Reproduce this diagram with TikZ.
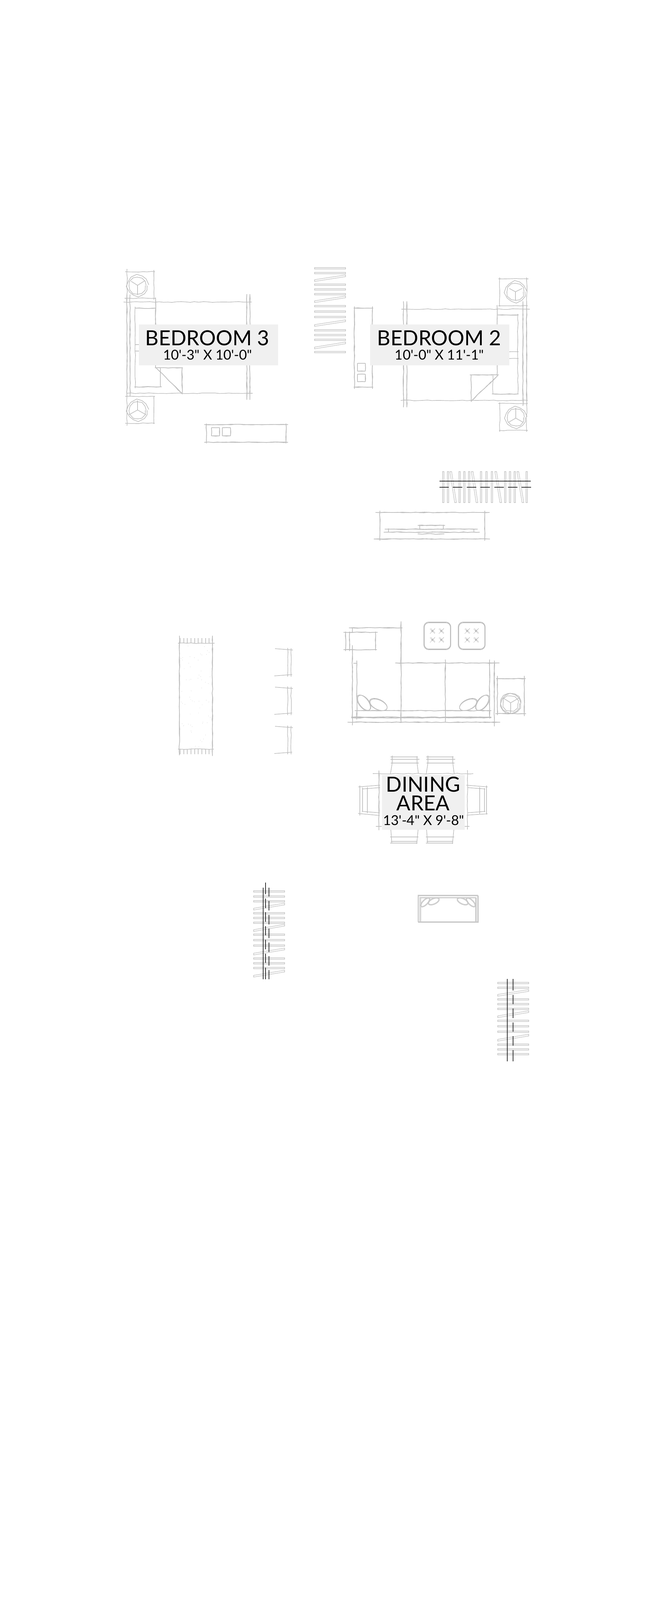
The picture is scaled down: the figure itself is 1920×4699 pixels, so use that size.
\documentclass[tikz,border=0pt]{standalone}
\usepackage{fontspec}
\usetikzlibrary{decorations.pathmorphing}
\newfontfamily\roomfont{Lato}
\definecolor{sketchgray}{HTML}{BDBDBD}
\definecolor{runggray}{HTML}{C9C9C9}
\definecolor{boxgray}{HTML}{F0F0F0}
\tikzset{
    sketch/.style={draw=sketchgray, line width=1.7pt, decorate,
        decoration={random steps, segment length=13pt, amplitude=1.1pt}},
    plainline/.style={draw=sketchgray, line width=1.7pt},
    rung/.style={draw=runggray, line width=1.7pt},
    blackline/.style={draw=black!90, line width=1.7pt},
    roombox/.style={fill=boxgray, inner sep=0pt},
    roomname/.style={anchor=base, inner sep=0pt, font=\roomfont\fontsize{61}{61}\selectfont},
    roomsize/.style={anchor=base, inner sep=0pt, font=\roomfont\fontsize{40}{40}\selectfont},
}
\newcommand{\skline}[2]{\draw[sketch] #1 -- #2; \draw[sketch] #1 -- #2;}
\begin{document}
\begin{tikzpicture}[x=1pt, y=-1pt]
\useasboundingbox (0,0) rectangle (1920,4699);

% bedroom 3
\draw[sketch] (373,790) -- (373,882);
\draw[sketch] (368,798) -- (455,798);
\draw[sketch] (452,793) -- (452,880);
\draw[sketch] (366,876) -- (456,876);
\draw[sketch] (404,839) circle (28);
\draw[sketch] (404,839) circle (23);
\draw[plainline] (404,838) -- (385,826) (404,838) -- (426,824) (404,838) -- (404,866);
\draw[sketch] (363,887) -- (739,887);
\draw[sketch] (372,1155) -- (742,1155);
\skline{(373,865)}{(373,1164)}
\skline{(382,865)}{(382,1164)}
\skline{(457,874)}{(457,1081)}
\skline{(725,864)}{(725,1174)}
\skline{(734,864)}{(734,1174)}
\skline{(397,905)}{(458,905)}
\draw[sketch] (397,901) -- (397,1140);
\draw[sketch] (397,1012) -- (408,1012) (397,1031) -- (408,1031);
\skline{(395,1136)}{(475,1136)}
\draw[sketch] (471,1081) -- (471,1136);
\skline{(455,1080)}{(537,1080)}
\skline{(535,1080)}{(535,1158)}
\skline{(459,1081)}{(535,1156)}
\draw[sketch] (373,1164) -- (373,1250);
\draw[sketch] (368,1164) -- (455,1164);
\draw[sketch] (452,1164) -- (452,1245);
\draw[sketch] (368,1243) -- (454,1243);
\draw[sketch] (404,1205) circle (28);
\draw[sketch] (404,1205) circle (23);
\draw[plainline] (404,1204) -- (404,1176) (404,1204) -- (379,1218) (404,1204) -- (429,1218);
\skline{(600,1247)}{(846,1247)}
\skline{(600,1299)}{(846,1299)}
\skline{(606,1244)}{(606,1302)}
\skline{(840,1244)}{(840,1302)}
\skline{(621,1256)}{(645,1256)}
\skline{(621,1280)}{(645,1280)}
\skline{(621,1256)}{(621,1280)}
\skline{(645,1256)}{(645,1280)}
\skline{(653,1256)}{(677,1256)}
\skline{(653,1280)}{(677,1280)}
\skline{(653,1256)}{(653,1280)}
\skline{(677,1256)}{(677,1280)}

% top ladder
\foreach \y in {788,802,836,850,864,899,915,931,970,984,998,1034}
    \draw[rung] (924,{\y-2.2}) rectangle (1015,{\y+2.2});
\foreach \a/\b in {824/810,886/872,956/942,1022/1007}
    \draw[rung] (924,{\a-2.5}) -- (1015,{\b-2.5}) -- (1015,{\b+2.5}) -- (924,{\a+2.5}) -- cycle;

% bedroom 2
\draw[sketch] (1468,815) -- (1468,900);
\draw[sketch] (1464,819) -- (1552,819);
\draw[sketch] (1547,815) -- (1547,900);
\draw[sketch] (1464,898) -- (1550,898);
\draw[sketch] (1514,857) circle (28);
\draw[sketch] (1514,857) circle (23);
\draw[plainline] (1514,857) -- (1496,847) (1514,857) -- (1534,847) (1514,857) -- (1514,882);
\draw[sketch] (1179,908) -- (1556,908);
\draw[sketch] (1177,1176) -- (1550,1176);
\skline{(1185,885)}{(1185,1196)}
\skline{(1195,885)}{(1195,1196)}
\skline{(1460,896)}{(1460,1103)}
\skline{(1536,885)}{(1536,1192)}
\skline{(1547,885)}{(1547,1192)}
\skline{(1462,925)}{(1523,925)}
\draw[sketch] (1521,922) -- (1521,1158);
\draw[sketch] (1496,1033) -- (1523,1033) (1496,1053) -- (1523,1053);
\skline{(1445,1157)}{(1523,1157)}
\draw[sketch] (1448,1103) -- (1448,1157);
\skline{(1380,1101)}{(1465,1101)}
\skline{(1384,1101)}{(1384,1180)}
\skline{(1384,1178)}{(1462,1103)}
\draw[sketch] (1468,1182) -- (1468,1268);
\draw[sketch] (1464,1185) -- (1550,1185);
\draw[sketch] (1547,1185) -- (1547,1268);
\draw[sketch] (1466,1264) -- (1550,1264);
\draw[sketch] (1515,1226) circle (28);
\draw[sketch] (1515,1226) circle (23);
\draw[plainline] (1515,1228) -- (1515,1198) (1515,1228) -- (1494,1240) (1515,1228) -- (1536,1240);
\skline{(1039,905)}{(1096,905)}
\skline{(1039,1137)}{(1096,1137)}
\skline{(1041,900)}{(1041,1142)}
\skline{(1094,900)}{(1094,1142)}
\skline{(1050,1067)}{(1073,1067)}
\skline{(1050,1090)}{(1073,1090)}
\skline{(1050,1067)}{(1050,1090)}
\skline{(1073,1067)}{(1073,1090)}
\skline{(1050,1099)}{(1073,1099)}
\skline{(1050,1121)}{(1073,1121)}
\skline{(1050,1099)}{(1050,1121)}
\skline{(1073,1099)}{(1073,1121)}

% right ladder
\foreach \x in {1302,1316,1350,1364,1378,1413,1429,1445,1484,1498,1512,1547}
    \draw[rung] ({\x-2.2},1385) rectangle ({\x+2.2},1476);
\foreach \a/\b in {1324/1338,1387/1401,1456/1471,1521/1536}
    \draw[rung] ({\a-2.5},1385) -- ({\b-2.5},1476) -- ({\b+2.5},1476) -- ({\a+2.5},1385) -- cycle;
\draw[blackline] (1291,1413) -- (1559,1413);
\foreach \a/\b in {1291/1318,1330/1358,1371/1399,1411/1439,1452/1480,1492/1520,1532/1560}
    \draw[blackline] (\a,1431) -- (\b,1431);

% sideboard
\skline{(1103,1505)}{(1438,1505)}
\skline{(1098,1583)}{(1439,1583)}
\skline{(1116,1500)}{(1116,1588)}
\skline{(1424,1500)}{(1424,1588)}
\skline{(1130,1554)}{(1403,1554)}
\skline{(1127,1563)}{(1409,1563)}
\skline{(1227,1543)}{(1307,1543)}
\skline{(1227,1568)}{(1305,1568)}
\draw[sketch] (1233,1541) -- (1233,1555);
\draw[sketch] (1302,1541) -- (1302,1555);
\draw[sketch] (1141,1552) -- (1141,1563);
\draw[sketch] (1392,1553) -- (1392,1564);

% rug
\draw[sketch] (523,1889) -- (630,1889);
\draw[sketch] (523,2200) -- (628,2200);
\skline{(527,1867)}{(527,2218)}
\skline{(624,1867)}{(624,2220)}
\foreach \x in {529,540,550,561,572,582,593,604,614}
    \draw[plainline] (\x,1874) -- (\x,1889) (\x,2200) -- (\x,2215);
\foreach \a/\b in {157/142,302/147,328/183,343/197,268/212,279/221,320/216,174/236,213/245,110/243,95/252,108/265,246/266,163/293,177/326,123/342,365/342,272/362,254/398,268/411,351/412,245/426,141/440,168/441,182/435,276/440,310/461,336/473,277/511,102/541,185/537,172/592,180/612,194/625,213/633,254/628,318/619,340/635,97/635,108/647,130/656,282/660,261/687,249/732,177/741,338/758,353/771,288/812,285/824,326/818,105/826,120/840,116/846,160/830,180/838,193/852,183/890,187/902,311/926,293/961,266/972,279/985,222/1025,252/1030,188/1040,147/1044,357/1017}
    \fill[sketchgray] ({500+\a/3},{1850+\b/3}) circle (.7);

% wall brackets
\foreach \t/\b in {1905/1985,2018/2098,2133/2213} {
    \draw[plainline] (808,\t) -- (860,{\t+4});
    \draw[plainline] (806,\b) -- (858,{\b-4});
    \draw[sketch] (845,{\t-2}) -- (845,{\b+2});
    \draw[sketch] (855,{\t-1}) -- (855,{\b+2});
}

% sofa
\skline{(1025,1844)}{(1182,1844)}
\skline{(1178,1825)}{(1178,2120)}
\skline{(1009,1857)}{(1109,1857)}
\skline{(1009,1908)}{(1107,1908)}
\skline{(1015,1855)}{(1015,1912)}
\skline{(1027,1855)}{(1027,1912)}
\skline{(1103,1855)}{(1103,1910)}
\draw[plainline] (1035,1844) -- (1035,1857);
\skline{(1035,1895)}{(1035,2130)}
\skline{(1048,1940)}{(1048,2113)}
\draw[plainline] (1038,1948) -- (1048,1948);
\skline{(1161,1947)}{(1467,1947)}
\skline{(1308,1937)}{(1308,2120)}
\skline{(1438,1937)}{(1438,2110)}
\skline{(1452,1940)}{(1452,2133)}
\skline{(1042,2087)}{(1443,2087)}
\skline{(1032,2106)}{(1443,2106)}
\skline{(1032,2108)}{(1443,2108)}
\skline{(1021,2121)}{(1469,2121)}
\draw[plainline, rotate around={-52:(1068,2064)}] (1068,2064) ellipse (27 and 14);
\draw[plainline, rotate around={-52:(1070,2064)}] (1070,2064) ellipse (26 and 14);
\draw[plainline, rotate around={-25:(1111,2069)}] (1111,2069) ellipse (28 and 15);
\draw[plainline, rotate around={-25:(1112,2070)}] (1112,2070) ellipse (27 and 14);
\draw[plainline, rotate around={25:(1376,2069)}] (1376,2069) ellipse (28 and 15);
\draw[plainline, rotate around={25:(1375,2070)}] (1375,2070) ellipse (27 and 14);
\draw[plainline, rotate around={52:(1418,2064)}] (1418,2064) ellipse (27 and 14);
\draw[plainline, rotate around={52:(1416,2064)}] (1416,2064) ellipse (26 and 14);

% ottomans
\foreach \x in {1245,1346} {
    \draw[plainline, rounded corners=14pt] (\x,1827) rectangle ({\x+79},1908);
    \draw[plainline, rounded corners=13pt] ({\x+1.5},1829) rectangle ({\x+78},1906);
}
\foreach \x in {1270,1296,1372,1398}
    \foreach \y in {1853,1879} {
        \draw[plainline, line width=.9pt] ({\x-7},{\y-6}) -- ({\x+7},{\y+8}) ({\x-5},{\y-8}) -- ({\x+8},{\y+6});
        \draw[plainline, line width=.9pt] ({\x-7},{\y+8}) -- ({\x+7},{\y-6}) ({\x-5},{\y+6}) -- ({\x+8},{\y-8});
        \fill[sketchgray] (\x,\y) circle (3);
    }

% side table
\skline{(1457,1993)}{(1544,1993)}
\skline{(1455,2096)}{(1545,2096)}
\skline{(1461,1985)}{(1461,2100)}
\skline{(1540,1985)}{(1540,2103)}
\draw[sketch] (1500,2066) circle (29);
\draw[sketch] (1500,2066) circle (26);
\draw[sketch] (1500,2066) circle (21);
\draw[plainline] (1500,2064) -- (1478,2050) (1500,2064) -- (1524,2050) (1500,2064) -- (1500,2094);

% dining table
\draw[sketch] (1095,2272) -- (1390,2272);
\skline{(1113,2263)}{(1113,2438)}
\draw[sketch] (1373,2262) -- (1373,2436);
\draw[sketch] (1104,2427) -- (1121,2427);
\draw[sketch] (1365,2427) -- (1379,2427);
\foreach \a/\b in {0/0,105/105} {
    \draw[plainline] ({1147+\a},2223) -- ({1227+\a},2223);
    \draw[plainline] ({1147+\a},2230) -- ({1232+\a},2230);
    \draw[plainline] ({1148+\a},2241) -- ({1230+\a},2241);
    \draw[plainline] ({1152+\a},2219) -- ({1152+\a},2241) -- ({1147+\a},2272);
    \draw[plainline] ({1225+\a},2221) -- ({1225+\a},2241) -- ({1229+\a},2272);
    \draw[plainline] ({1146+\a},2458) -- ({1229+\a},2458);
    \draw[plainline] ({1148+\a},2471) -- ({1226+\a},2471);
    \draw[plainline] ({1146+\a},2476) -- ({1226+\a},2476);
    \draw[plainline] ({1148+\a},2437) -- ({1151+\a},2477);
    \draw[plainline] ({1228+\a},2437) -- ({1224+\a},2478);
}
\draw[plainline] (1053,2311) -- (1116,2306);
\draw[plainline] (1052,2389) -- (1115,2395);
\draw[plainline] (1065,2317) -- (1116,2313);
\draw[plainline] (1063,2383) -- (1115,2387);
\draw[plainline] (1057,2307) -- (1057,2395);
\draw[plainline] (1065,2313) -- (1065,2383);
\draw[plainline] (1079,2312) -- (1079,2388);
\draw[plainline] (1370,2306) -- (1432,2311);
\draw[plainline] (1371,2394) -- (1432,2390);
\draw[plainline] (1373,2313) -- (1425,2317);
\draw[plainline] (1373,2387) -- (1425,2383);
\draw[plainline] (1429,2307) -- (1429,2392);
\draw[plainline] (1423,2315) -- (1423,2385);
\draw[plainline] (1409,2312) -- (1409,2390);

% coffee table
\draw[rung] (1228,2629) rectangle (1403,2707);
\draw[rung] (1229,2631) rectangle (1405,2709);
\draw[rung] (1233,2636) rectangle (1397,2707);
\draw[rung] (1236,2637) rectangle (1399,2708);
\draw[rung, rotate around={45:(1249,2650)}] (1249,2650) ellipse (18 and 8);
\draw[rung, rotate around={45:(1249,2650)}] (1249,2650) ellipse (16 and 6);
\draw[rung, rotate around={25:(1274,2647)}] (1274,2647) ellipse (18 and 9);
\draw[rung, rotate around={25:(1274,2647)}] (1274,2647) ellipse (16 and 7);
\draw[rung, rotate around={-25:(1359,2647)}] (1359,2647) ellipse (18 and 9);
\draw[rung, rotate around={-25:(1359,2647)}] (1359,2647) ellipse (16 and 7);
\draw[rung, rotate around={-45:(1383,2650)}] (1383,2650) ellipse (18 and 8);
\draw[rung, rotate around={-45:(1383,2650)}] (1383,2650) ellipse (16 and 6);

% middle ladder
\foreach \y in {2618,2633,2647,2682,2696,2710,2745,2761,2777,2815,2829,2843}
    \draw[rung] (745,{\y-2.2}) rectangle (836,{\y+2.2});
\foreach \a/\b in {2670/2655,2733/2717,2802/2787,2867/2852}
    \draw[rung] (745,{\a-2.5}) -- (836,{\b-2.5}) -- (836,{\b+2.5}) -- (745,{\a+2.5}) -- cycle;
\draw[blackline] (773,2607) -- (773,2876);
\foreach \a/\b in {2592/2626,2639/2667,2679/2707,2720/2747,2760/2788,2801/2828,2842/2876}
    \draw[blackline] (780,\a) -- (780,\b);
\foreach \a/\b in {2607/2633,2646/2674,2687/2715,2727/2755,2768/2796,2808/2836,2849/2876}
    \draw[blackline] (790,\a) -- (790,\b);

% lower ladder
\foreach \y in {2887,2901,2935,2949,2963,2998,3014,3030,3068,3082,3096}
    \draw[rung] (1462,{\y-2.2}) rectangle (1553,{\y+2.2});
\foreach \a/\b in {2923/2909,2986/2971,3055/3040}
    \draw[rung] (1462,{\a-2.5}) -- (1553,{\b-2.5}) -- (1553,{\b+2.5}) -- (1462,{\a+2.5}) -- cycle;
\draw[blackline] (1490,2875) -- (1490,3117);
\foreach \a/\b in {2875/2909,2922/2949,2962/2990,3003/3030,3043/3071,3084/3117}
    \draw[blackline] (1507,\a) -- (1507,\b);

\node[roombox, minimum width=409pt, minimum height=120pt] (bed3box) at (612.5,1013) {};
\node[roomname] (bed3name) at (608.6,1014) {BEDROOM 3};
\node[roomsize] (bed3size) at (610,1056) {10'-3" X 10'-0"};
\node[roombox, minimum width=409pt, minimum height=120pt] (bed2box) at (1291.5,1013) {};
\node[roomname] (bed2name) at (1290,1014) {BEDROOM 2};
\node[roomsize] (bed2size) at (1290.6,1056) {10'-0" X 11'-1"};
\node[roombox, minimum width=243pt, minimum height=161pt] (diningbox) at (1243.5,2356.5) {};
\node[roomname] (diningname) at (1243,2325) {DINING};
\node[roomname] (areaname) at (1243,2380) {AREA};
\node[roomsize] (diningsize) at (1244.5,2423) {13'-4" X 9'-8"};
\end{tikzpicture}
\end{document}
